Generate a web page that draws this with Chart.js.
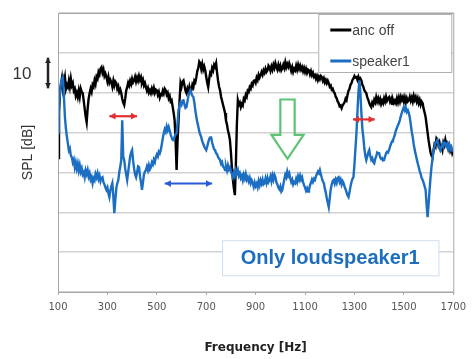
<!DOCTYPE html>
<html>
<head>
<meta charset="utf-8">
<script src="https://cdn.jsdelivr.net/npm/chart.js@4"></script>
<style>
  html, body { margin: 0; padding: 0; background: #fff; }
  #wrap { width: 472px; height: 359px; }
</style>
</head>
<body>
<div id="wrap"><canvas id="splChart"></canvas></div>
<script>
// sample frequencies of both measurements (Hz)
const freqHz = [
  100,104,108,112,116,120,124,128,132,136,140,144,148,152,156,160,164,168,172,176,180,184,188,192,196,
  200,204,208,212,216,220,224,228,232,236,240,244,248,252,256,260,264,268,272,276,280,284,288,292,296,
  300,304,308,312,316,320,324,328,332,336,340,344,348,352,356,360,364,368,372,376,380,384,388,392,396,
  400,404,408,412,416,420,424,428,432,436,440,444,448,452,456,460,464,468,472,476,480,484,488,492,496,
  500,504,508,512,516,520,524,528,532,536,540,544,548,552,556,560,564,568,572,576,580,584,588,592,596,
  600,604,608,612,616,620,624,628,632,636,640,644,648,652,656,660,664,668,672,676,680,684,688,692,696,
  700,704,708,712,716,720,724,728,732,736,740,744,748,752,756,760,764,768,772,776,780,784,788,792,796,
  800,804,808,812,816,820,824,828,832,836,840,844,848,852,856,860,864,868,872,876,880,884,888,892,896,
  900,904,908,912,916,920,924,928,932,936,940,944,948,952,956,960,964,968,972,976,980,984,988,992,996,
  1000,1004,1008,1012,1016,1020,1024,1028,1032,1036,1040,1044,1048,1052,1056,1060,1064,1068,1072,1076,1080,1084,1088,1092,1096,
  1100,1104,1108,1112,1116,1120,1124,1128,1132,1136,1140,1144,1148,1152,1156,1160,1164,1168,1172,1176,1180,1184,1188,1192,1196,
  1200,1204,1208,1212,1216,1220,1224,1228,1232,1236,1240,1244,1248,1252,1256,1260,1264,1268,1272,1276,1280,1284,1288,1292,1296,
  1300,1304,1308,1312,1316,1320,1324,1328,1332,1336,1340,1344,1348,1352,1356,1360,1364,1368,1372,1376,1380,1384,1388,1392,1396,
  1400,1404,1408,1412,1416,1420,1424,1428,1432,1436,1440,1444,1448,1452,1456,1460,1464,1468,1472,1476,1480,1484,1488,1492,1496,
  1500,1504,1508,1512,1516,1520,1524,1528,1532,1536,1540,1544,1548,1552,1556,1560,1564,1568,1572,1576,1580,1584,1588,1592,1596,
  1600,1604,1608,1612,1616,1620,1624,1628,1632,1636,1640,1644,1648,1652,1656,1660,1664,1668,1672,1676,1680,1684,1688,1692,1696,1700
];

// SPL, anc off (dB, arbitrary offset)
const ancOffSpl = [
  33.6,45,50,52,53.6,51,52.5,53.9,51,52,51.4,53,51.5,53.5,51.8,52.4,50.5,51,49.2,50,48.9,50.5,49,51,50.2,
  49.9,48,46,44,42.6,46,48.5,49.9,51,50.2,52,51.5,53.1,52.2,54,53.5,55.2,54.6,56,56.4,55,55.8,54.2,54.8,53.9,
  52.8,54,52.5,53.2,52.6,51.5,53,51.8,52.8,52.4,51,51.6,50.2,50.8,49.9,48.5,47.5,46.9,48.5,50.5,51.4,52.5,51.8,53,52.2,
  53.5,52.6,53.1,54,52.8,53.8,53,54.2,53.2,53.9,52.5,53.2,51.8,52.4,51.4,50.5,51.2,50,50.6,49.9,51,50.2,51.2,50,50.8,
  50.6,49.5,50.2,48.8,49.6,49.4,50.5,49.8,51,50.6,49.5,50,48.6,49.2,47.8,48.1,46.5,45,43.1,38,30.6,38,43.1,48,52.4,
  51.5,52.8,53.1,51.8,50.5,49.9,51,50.2,51.5,50.4,50.6,52,51.4,53,52.6,53.9,55.5,56.2,57.8,57.4,56,57.2,55.8,56.6,55.6,
  54,52.5,51.4,53.5,55,54.6,56.2,55.6,57,56.5,57.4,55,53,51.5,50.6,49,48,47,46,44.9,43,42,40.5,39.5,38.1,
  35,31,28.1,26,24.3,32,42,48.1,47,47.5,46.4,47.2,46.8,48.5,48.1,49.5,49,50.5,50.2,51.4,51,52.2,51.8,53,53.1,
  52.5,53.8,53.2,54.5,53.8,54.4,55.2,54.5,55.6,55,56,55.2,55.6,56.8,56.4,55.5,56.6,55.8,57,56.2,57.4,56.5,55.8,57,56,
  56.8,55.6,56.1,57,56.2,57.6,56.4,57.2,56.5,57.4,56.6,55.5,56.4,55.2,56,55.6,56.8,55.8,57,56,56.8,55.8,56.4,55.4,56.2,
  55.2,56,55,55.8,55.6,54.6,55.4,54.4,55,54,54.4,53.5,54.2,53.2,54,53.4,54.2,53.9,53,53.6,52.6,53.2,52.4,53,52.4,
  51.5,51.8,50.8,51,50.2,49.9,49,48.6,47.8,47.4,46.6,46.8,46.1,46.8,47.2,47.6,48.5,48.1,49.5,50.5,51,52,52.4,53.2,53.6,
  54.2,53.8,53.9,53.2,54,53.2,53.6,53.1,52,51.5,50.6,50.2,49.9,48.8,48.2,47.4,46.8,46.4,47.5,47,48.2,47.6,48.9,47.8,48.6,
  47.6,48.4,47.2,48,47.4,48.6,47.8,49,48,48.6,48.9,47.8,48.4,47.2,48.2,47.4,48,47.4,48.6,47.6,48.8,47.8,49,48.2,48.9,
  47.8,48.8,47.6,48.6,47.8,48.1,49,48,48.8,47.8,49.2,48.2,48.9,47.8,48.6,47.4,48.2,47,47.8,47.4,46,45,43.9,42,40,
  38.1,36.5,35,34.2,33.8,35.5,37,36.5,38.5,38.1,36.8,37.5,36,36.5,35.6,37.5,36.8,38.2,37,37.3,36,36.8,35.4,36,34.8,35.5
];

// SPL, only loudspeaker1 driven
const speaker1Spl = [
  40,46,50,52.5,53.5,53.9,49,43.9,41,39,37.3,35.5,36,34.2,33.8,32.5,33.2,31.3,32.5,31,32.2,30.5,31.8,30.2,31,
  29.5,30,28.8,30.5,29.6,30.6,29,29.8,28.2,28.8,27.3,28.5,28,29.6,28.8,29.8,28.4,29.2,27.8,28.6,28.8,27.5,27,26.2,25.6,
  26.2,24.8,23.8,25.5,26.5,27.3,24,19.8,23,26,27.3,28,30,31.5,33.1,43.1,34,33.1,31,29.5,28.1,30,32,34,35,
  35.6,33,31,29.5,28.8,30,31.5,31.3,29,27.5,25.6,27.5,29.5,30.2,30.6,31.5,30.6,31.8,30.8,31.3,32.5,32,33.2,32.6,33.8,
  34.5,34,35.2,34.8,35.6,37,38.5,39.8,40.8,40.2,41.5,40.6,41.4,40.5,39.5,38.8,38.2,38.1,39,39.6,39.8,42.5,45.6,46.8,47.5,
  47,48,48.1,47,46.2,46.4,47.8,49.2,50,50.6,49.8,49.2,48.9,47.5,45.5,43.9,42.5,41.5,40.2,39.5,38.8,37.8,37.2,36.5,36,
  35.6,36.5,37.5,38.4,38.8,38.8,37.5,36.6,35.8,35.6,34.8,34.6,33.8,33.5,33.1,32.2,32.6,31.5,31.2,30.6,31.5,30.5,31.8,30.8,31.3,
  30.2,29.6,28.8,30,29.2,30.6,29.8,30.6,29.2,29.8,28.6,29.2,28.1,29.4,28.5,29.6,28.2,28.8,27.8,28.6,27.3,28,27.3,26.4,27.5,
  26.6,27.2,26.3,27.8,26.8,28,27.2,28.2,27,27.3,28.5,27.4,28.6,27.6,28.1,29,27.8,29.2,28.2,29.4,28.8,27.5,27,26.2,25.8,
  26.5,25.2,25.6,27,28.2,29.4,28.8,30.2,29.2,29.8,28.6,27.6,28.2,27,27.6,27.3,28.4,27.6,29,28.2,29.2,28.2,28.8,27.6,26.8,
  26.2,25.4,26,25.2,25.6,26.8,27.4,28.2,27.6,28.4,28.1,29,29.6,30.2,29.8,30.6,29.5,28.6,27.8,27.3,26,25,23.5,22.4,21.3,
  23.5,25.8,27,27.8,28.1,27.2,28.2,27.4,28.6,28.8,27.6,28.2,27,27.8,27.3,26.4,25.8,25,24.2,23.8,25,26.5,27.6,28.4,28.8,
  32,36,39.8,45,50,53.1,50,45,41,38.8,36,34.2,33.1,34,35,35.6,34.2,33.2,33.6,32.6,32.3,33.4,34,35,34.8,
  34.8,33.8,33.4,33.6,33,33.1,34,34.8,35.2,35,35.6,36.5,37.2,37.8,38.2,38.8,39.6,40.6,41.2,41.8,42.4,43.2,44.2,45,45.8,
  46.4,45.6,46.2,45.2,45.6,44.9,43.8,42,40.2,38.8,37,35.6,34.5,33.4,32.3,31.4,30.4,29.6,28.6,28.1,27.4,26.5,25.6,22,18.8,
  22,25.5,28.8,31.5,33.5,35.6,36.5,37.5,37.6,38.1,37,36.2,35.6,36.4,37.2,36.5,37.5,37.3,36.6,37.2,36,36.8,35.8,36.4,35.6,36
];

const seriesNames = ['anc off', 'speaker1'];
const seriesColors = ['#000000', '#1b6ec2'];
const freqTicks = [100, 300, 500, 700, 900, 1100, 1300, 1500, 1700];
const splRange = [0, 70];
const splStep = 10;
const scaleBarDb = 10;
const noteText = 'Only loudspeaker1';

function toPoints(spl) {
  return freqHz.map((f, i) => ({ x: f, y: spl[i] }));
}

function arrowHead(ctx, x, y, angle, size) {
  ctx.beginPath();
  ctx.moveTo(x, y);
  ctx.lineTo(x - size * Math.cos(angle - 0.5), y - size * Math.sin(angle - 0.5));
  ctx.lineTo(x - size * Math.cos(angle + 0.5), y - size * Math.sin(angle + 0.5));
  ctx.closePath();
  ctx.fill();
}

function doubleArrow(ctx, x1, y1, x2, y2, color, width, head) {
  ctx.save();
  ctx.strokeStyle = color;
  ctx.fillStyle = color;
  ctx.lineWidth = width;
  ctx.beginPath();
  ctx.moveTo(x1, y1);
  ctx.lineTo(x2, y2);
  ctx.stroke();
  const a = Math.atan2(y2 - y1, x2 - x1);
  arrowHead(ctx, x2, y2, a, head);
  arrowHead(ctx, x1, y1, a + Math.PI, head);
  ctx.restore();
}

const notesPlugin = {
  id: 'notes',
  afterDraw(chart) {
    const ctx = chart.ctx;
    const area = chart.chartArea;
    const xs = chart.scales.x;
    const ys = chart.scales.y;
    const px = v => xs.getPixelForValue(v);
    const py = v => ys.getPixelForValue(v);

    ctx.save();
    // plot frame
    ctx.strokeStyle = '#a8a8a8';
    ctx.lineWidth = 1;
    ctx.strokeRect(area.left + 0.5, area.top + 0.5, area.right - area.left, area.bottom - area.top);

    // legend box
    const lx = area.right - 135, ly = area.top + 1;
    ctx.fillStyle = '#fff';
    ctx.fillRect(lx, ly, 133, 58);
    ctx.strokeStyle = '#b0b0b0';
    ctx.strokeRect(lx + 0.5, ly + 0.5, 133, 58);
    ctx.font = '14px "Liberation Sans", Arial, sans-serif';
    ctx.textBaseline = 'middle';
    seriesNames.forEach((name, i) => {
      const yy = ly + 16 + i * 31;
      ctx.strokeStyle = seriesColors[i];
      ctx.lineWidth = 3;
      ctx.beginPath();
      ctx.moveTo(lx + 12, yy);
      ctx.lineTo(lx + 33, yy);
      ctx.stroke();
      ctx.fillStyle = '#444';
      ctx.textAlign = 'left';
      ctx.fillText(name, lx + 34, yy + 1);
    });

    // 10 dB scale bar
    ctx.fillStyle = '#333';
    ctx.font = '17px "Liberation Sans", Arial, sans-serif';
    ctx.textAlign = 'center';
    ctx.fillText(String(scaleBarDb), area.left - 36, py(54.7));
    doubleArrow(ctx, area.left - 10, py(58.8), area.left - 10, py(58.8 - scaleBarDb + 2.3), '#222', 2.5, 6);

    // red and blue marks
    doubleArrow(ctx, px(308), py(44.1), px(420), py(44.1), '#e23030', 2.2, 7);
    doubleArrow(ctx, px(1294), py(43.3), px(1382), py(43.3), '#e23030', 2.2, 7);
    doubleArrow(ctx, px(532), py(27.2), px(724), py(27.2), '#2a5bd7', 2, 7);

    // green hollow arrow
    const sL = px(1000), sR = px(1058), top = py(48.3), base = py(39.4);
    const hL = px(964), hR = px(1094), tip = py(33.4);
    ctx.strokeStyle = '#5cc474';
    ctx.lineWidth = 2.2;
    ctx.beginPath();
    ctx.moveTo(sL, top);
    ctx.lineTo(sR, top);
    ctx.lineTo(sR, base);
    ctx.lineTo(hR, base);
    ctx.lineTo((sL + sR) / 2, tip);
    ctx.lineTo(hL, base);
    ctx.lineTo(sL, base);
    ctx.closePath();
    ctx.stroke();

    // note box
    const nx = px(764), nr = px(1640), nt = py(13), nb = py(4.2);
    ctx.fillStyle = '#fff';
    ctx.fillRect(nx, nt, nr - nx, nb - nt);
    ctx.strokeStyle = '#cfe0f0';
    ctx.lineWidth = 1;
    ctx.strokeRect(nx + 0.5, nt + 0.5, nr - nx, nb - nt);
    ctx.fillStyle = '#1e6ebf';
    ctx.font = 'bold 20px "Liberation Sans", Arial, sans-serif';
    ctx.textAlign = 'center';
    ctx.textBaseline = 'middle';
    ctx.fillText(noteText, (nx + nr) / 2, (nt + nb) / 2 + 1);
    ctx.restore();
  }
};

new Chart(document.getElementById('splChart'), {
  type: 'line',
  data: {
    datasets: [
      {
        label: seriesNames[0],
        data: toPoints(ancOffSpl),
        borderColor: seriesColors[0],
        borderWidth: 2.4,
        pointRadius: 0,
        tension: 0,
        order: 2
      },
      {
        label: seriesNames[1],
        data: toPoints(speaker1Spl),
        borderColor: seriesColors[1],
        borderWidth: 2.4,
        pointRadius: 0,
        tension: 0,
        order: 1
      }
    ]
  },
  options: {
    responsive: true,
    maintainAspectRatio: false,
    animation: false,
    devicePixelRatio: 1,
    layout: { padding: { top: 13, right: 14, left: 0, bottom: 0 } },
    plugins: {
      legend: { display: false },
      tooltip: { enabled: false }
    },
    scales: {
      x: {
        type: 'linear',
        min: freqTicks[0],
        max: freqTicks[freqTicks.length - 1],
        afterBuildTicks: s => { s.ticks = freqTicks.map(v => ({ value: v })); },
        afterFit: s => { s.height = 67; },
        grid: { drawOnChartArea: false, tickLength: 3, color: '#a8a8a8' },
        border: { color: '#a8a8a8' },
        ticks: {
          padding: 6,
          color: '#555',
          font: { family: '"DejaVu Sans", sans-serif', size: 10 },
          maxRotation: 0,
          callback: v => String(v)
        },
        title: {
          display: true,
          text: 'Frequency [Hz]',
          color: '#222',
          font: { family: '"DejaVu Sans", sans-serif', size: 12, weight: 'bold' },
          padding: { top: 0, bottom: 4 }
        }
      },
      y: {
        min: splRange[0],
        max: splRange[1],
        afterFit: s => { s.width = 58; },
        ticks: { stepSize: splStep, display: false },
        grid: { color: '#d2d2d2', lineWidth: 1.5, drawTicks: false },
        border: { color: '#a8a8a8' },
        title: {
          display: true,
          text: 'SPL [dB]',
          color: '#333',
          font: { family: '"Liberation Sans", Arial, sans-serif', size: 14 },
          padding: { top: 20, bottom: 0 }
        }
      }
    }
  },
  plugins: [notesPlugin]
});
</script>
</body>
</html>
